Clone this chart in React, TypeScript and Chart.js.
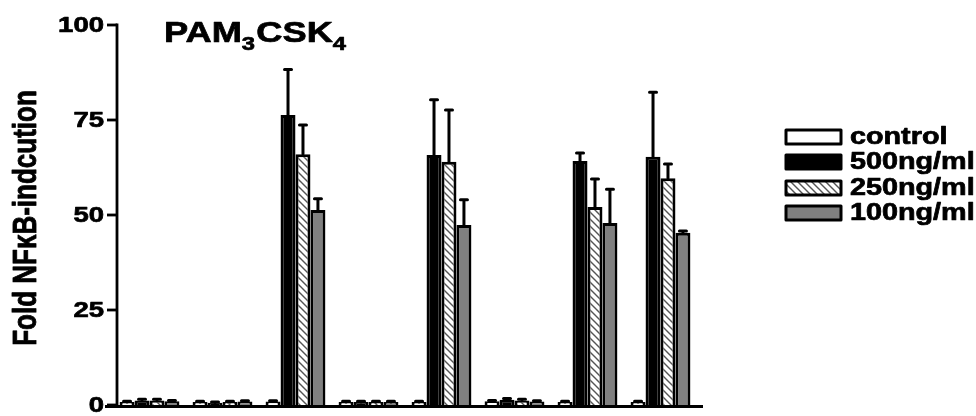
import React, { useEffect, useRef } from "react";
import { Chart, registerables } from "chart.js";

Chart.register(...registerables);

// ---- data ----
const groupLabels = ["G1", "G2", "G3", "G4", "G5", "G6", "G7", "G8"];
const seriesNames = ["control", "500ng/ml", "250ng/ml", "100ng/ml"];
const controlValues = [0.8, 0.8, 0.9, 0.8, 0.8, 1.0, 0.8, 0.8];
const ng500Values = [1.2, 0.6, 76.3, 0.8, 65.8, 1.4, 64.2, 65.3];
const ng250Values = [1.2, 0.8, 66.0, 0.8, 64.0, 1.2, 52.1, 59.7];
const ng100Values = [1.0, 0.9, 51.3, 0.8, 47.4, 0.9, 47.9, 45.3];
const controlErrors = [0.2, 0.2, 0.2, 0.2, 0.2, 0.2, 0.2, 0.2];
const ng500Errors = [0.3, 0.2, 12.0, 0.2, 14.5, 0.3, 2.1, 17.0];
const ng250Errors = [0.3, 0.2, 7.7, 0.2, 13.6, 0.3, 7.4, 3.7];
const ng100Errors = [0.2, 0.2, 3.0, 0.2, 6.6, 0.2, 8.9, 0.5];
const yTickValues = [0, 25, 50, 75, 100];
const yAxisTitle = "Fold NFκB-indcution";
const titleParts = [
  { t: "PAM", sub: false },
  { t: "3", sub: true },
  { t: "CSK", sub: false },
  { t: "4", sub: true },
];

const FONT = '"Liberation Sans", Arial, sans-serif';
const SX = 1.25;

function makeHatch(): CanvasPattern | string {
  const c = document.createElement("canvas");
  c.width = 7;
  c.height = 7;
  const g = c.getContext("2d");
  if (!g) return "#ffffff";
  g.fillStyle = "#ffffff";
  g.fillRect(0, 0, 7, 7);
  g.strokeStyle = "#555555";
  g.lineWidth = 1.4;
  g.beginPath();
  g.moveTo(-1, -1);
  g.lineTo(8, 8);
  g.moveTo(-1, 6);
  g.lineTo(1, 8);
  g.moveTo(6, -1);
  g.lineTo(8, 1);
  g.stroke();
  const p = g.createPattern(c, "repeat");
  return p || "#ffffff";
}

function boldText(ctx: CanvasRenderingContext2D, s: string, x: number, y: number) {
  ctx.fillText(s, x, y);
  ctx.strokeText(s, x, y);
}

export default function App() {
  const ref = useRef<HTMLCanvasElement | null>(null);

  useEffect(() => {
    const canvas = ref.current;
    if (!canvas) return;
    const hatch = makeHatch();
    const fills: any[] = ["#ffffff", "#000000", hatch, "#808080"];
    const values = [controlValues, ng500Values, ng250Values, ng100Values];
    const errors = [controlErrors, ng500Errors, ng250Errors, ng100Errors];

    const overlay = {
      id: "overlay",
      afterDatasetsDraw(chart: any) {
        const ctx: CanvasRenderingContext2D = chart.ctx;
        const ys = chart.scales.y;
        ctx.save();
        ctx.strokeStyle = "#000";
        ctx.lineWidth = 3;
        ctx.lineCap = "round";
        values.forEach((vals, i) => {
          const meta = chart.getDatasetMeta(i);
          meta.data.forEach((el: any, j: number) => {
            const top = ys.getPixelForValue(vals[j] + errors[i][j]);
            ctx.beginPath();
            ctx.moveTo(el.x, el.y);
            ctx.lineTo(el.x, top);
            ctx.moveTo(el.x - 3.5, top);
            ctx.lineTo(el.x + 3.5, top);
            ctx.stroke();
          });
        });
        ctx.restore();
      },
      afterDraw(chart: any) {
        const ctx: CanvasRenderingContext2D = chart.ctx;
        const ys = chart.scales.y;
        const area = chart.chartArea;
        const axisX = 117;
        const y0 = ys.getPixelForValue(0);
        const y100 = ys.getPixelForValue(100);
        ctx.save();
        ctx.strokeStyle = "#000";
        ctx.lineCap = "butt";
        ctx.lineWidth = 2.8;
        ctx.beginPath();
        ctx.moveTo(axisX, y100 - 1.4);
        ctx.lineTo(axisX, y0 + 1);
        ctx.stroke();
        yTickValues.forEach((v) => {
          const y = ys.getPixelForValue(v);
          ctx.beginPath();
          ctx.moveTo(107, y);
          ctx.lineTo(axisX, y);
          ctx.stroke();
        });
        ctx.lineWidth = 3;
        ctx.beginPath();
        ctx.moveTo(105, y0 + 1.5);
        ctx.lineTo(703, y0 + 1.5);
        ctx.stroke();

        ctx.fillStyle = "#000";
        ctx.strokeStyle = "#000";
        ctx.lineWidth = 0.7;
        ctx.lineJoin = "round";

        // tick labels
        ctx.font = `bold 22px ${FONT}`;
        ctx.textAlign = "right";
        ctx.textBaseline = "middle";
        yTickValues.forEach((v) => {
          const y = ys.getPixelForValue(v);
          ctx.save();
          ctx.translate(104, y + 1);
          ctx.scale(SX, 1);
          boldText(ctx, String(v), 0, 0);
          ctx.restore();
        });

        // y axis title
        ctx.save();
        ctx.translate(27, (area.top + area.bottom) / 2 + 3);
        ctx.scale(SX, 1);
        ctx.rotate(-Math.PI / 2);
        ctx.font = `bold 26px ${FONT}`;
        ctx.textAlign = "center";
        ctx.textBaseline = "middle";
        boldText(ctx, yAxisTitle, 0, 0);
        ctx.restore();

        // title with subscripts
        ctx.save();
        ctx.translate(164, 42);
        ctx.scale(SX, 1);
        ctx.textAlign = "left";
        ctx.textBaseline = "alphabetic";
        let x = 0;
        titleParts.forEach((p) => {
          ctx.font = p.sub ? `bold 19px ${FONT}` : `bold 29px ${FONT}`;
          boldText(ctx, p.t, x, p.sub ? 8 : 0);
          x += ctx.measureText(p.t).width + (p.sub ? 1 : 0);
        });
        ctx.restore();

        // legend
        const rowsY = [137, 162, 188, 213];
        seriesNames.forEach((name, i) => {
          const cy = rowsY[i];
          ctx.fillStyle = fills[i];
          ctx.fillRect(786, cy - 7, 55, 14);
          ctx.strokeStyle = "#000";
          ctx.lineWidth = 3;
          ctx.strokeRect(786, cy - 7, 55, 14);
          ctx.save();
          ctx.translate(850, cy + 1);
          ctx.scale(SX, 1);
          ctx.fillStyle = "#000";
          ctx.lineWidth = 0.7;
          ctx.font = `bold 23px ${FONT}`;
          ctx.textAlign = "left";
          ctx.textBaseline = "middle";
          boldText(ctx, name, 0, 0);
          ctx.restore();
        });
        ctx.restore();
      },
    };

    const chart = new Chart(canvas, {
      type: "bar",
      data: {
        labels: groupLabels,
        datasets: seriesNames.map((name, i) => ({
          label: name,
          data: values[i],
          backgroundColor: fills[i],
          borderColor: "#000000",
          borderWidth: 3,
          borderSkipped: "bottom" as const,
          categoryPercentage: 0.82,
          barPercentage: 1.0,
        })),
      },
      options: {
        responsive: false,
        animation: false,
        devicePixelRatio: 1,
        layout: { padding: { left: 113, right: 279, top: 25, bottom: 11 } },
        plugins: { legend: { display: false }, tooltip: { enabled: false }, title: { display: false } },
        scales: {
          x: {
            ticks: { display: false },
            grid: { display: false, drawTicks: false },
            border: { display: false },
            afterFit: (s: any) => {
              s.height = 0;
            },
          },
          y: {
            min: 0,
            max: 100,
            ticks: { display: false, stepSize: 25 },
            grid: { display: false, drawTicks: false },
            border: { display: false },
            afterFit: (s: any) => {
              s.width = 0;
            },
          },
        },
      },
      plugins: [overlay],
    });
    return () => chart.destroy();
  }, []);

  return (
    <div style={{ position: "fixed", left: 0, top: 0, width: 976, height: 416, background: "#fff" }}>
      <canvas ref={ref} width={976} height={416} style={{ width: 976, height: 416, display: "block" }} />
    </div>
  );
}
